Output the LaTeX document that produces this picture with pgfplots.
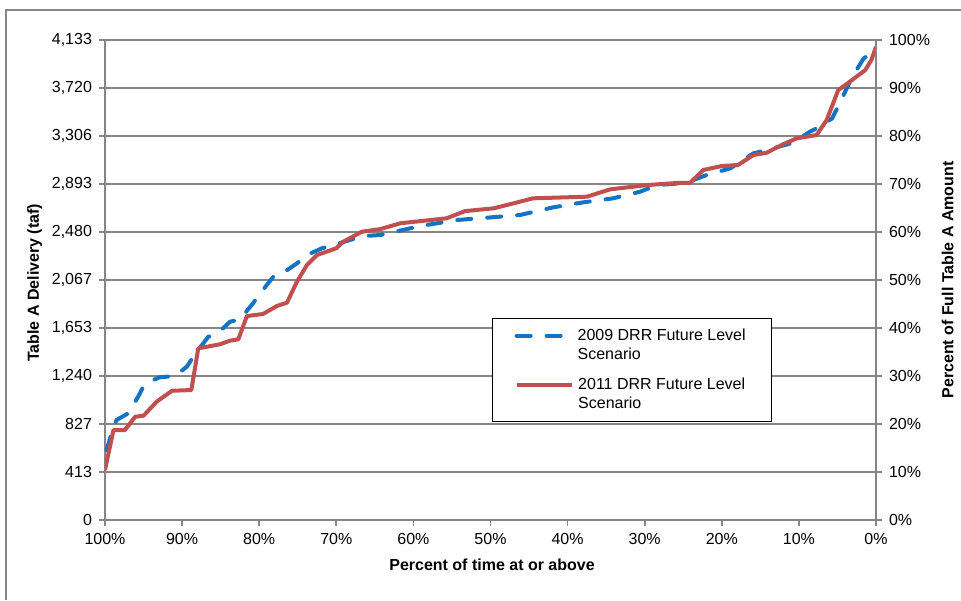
\documentclass[border=0pt]{standalone}
\usepackage{fontspec}
\setmainfont{Liberation Sans}
\usepackage{pgfplots}
\pgfplotsset{compat=1.18}
\definecolor{drrblue}{RGB}{20,115,195}
\definecolor{drrred}{RGB}{192,80,77}
\definecolor{axisgray}{RGB}{134,134,134}

% 1px of the reference = 0.5pt here
\pgfplotsset{
  drrframe/.style={
    scale only axis, width=385.5pt, height=240pt,
    at={(0pt,0pt)}, anchor=south west,
    xmin=0, xmax=100, x dir=reverse,
    axis line style={axisgray, line width=0.8pt},
    tick style={axisgray, line width=0.8pt},
    tick align=outside, major tick length=3pt,
    ticklabel style={font=\fontsize{8}{9.6}\selectfont},
    label style={font=\bfseries\fontsize{8}{9.6}\selectfont},
  },
}

\begin{document}
\begin{tikzpicture}
\useasboundingbox (-52.5pt,-40pt) rectangle (428pt,260pt);

\begin{axis}[drrframe,
  axis x line*=bottom, axis y line*=left,
  ymin=0, ymax=4133.33,
  xtick={0,10,...,100},
  xticklabels={0\%,10\%,20\%,30\%,40\%,50\%,60\%,70\%,80\%,90\%,100\%},
  ytick={0,413.33,826.67,1240,1653.33,2066.67,2480,2893.33,3306.67,3720,4133.33},
  yticklabels={0,413,827,{1,240},{1,653},{2,067},{2,480},{2,893},{3,306},{3,720},{4,133}},
  ymajorgrids, grid style={axisgray, line width=0.8pt},
  xlabel={Percent of time at or above},
  ylabel={Table A Delivery (taf)},
  xlabel style={at={(axis description cs:0.502,-0.094)}, anchor=center},
  ylabel style={at={(axis description cs:-0.091,0.494)}, anchor=center},
  legend style={at={(rel axis cs:0.502,0.421)}, anchor=north west,
    draw=black, line width=0.6pt, inner xsep=11pt, inner ysep=3pt,
    font=\fontsize{8}{9.5}\selectfont, cells={align=left},
    row sep=4pt},
  legend image code/.code={\draw[#1] (0pt,4.75pt) -- (27.5pt,4.75pt);},
]
\addplot[drrblue, line width=2pt, line cap=round, dash pattern=on 7pt off 8pt] coordinates {
(99.8,600) (98.9,803) (98.5,861) (97.0,918) (95.7,1062) (94.8,1177)
(92.9,1229) (90.9,1240) (89.4,1320) (88.1,1449) (86.6,1578) (85.5,1601)
(83.8,1707) (82.5,1728) (80.8,1866) (79.7,1966) (78.0,2109) (76.9,2129)
(75.1,2210) (73.8,2282) (71.9,2339) (70.4,2368) (66.5,2445) (64.3,2454)
(59.1,2531) (54.4,2583) (50.5,2603) (46.2,2626) (41.9,2692) (38.0,2735)
(34.1,2770) (30.6,2827) (28.4,2884) (25.4,2899) (23.7,2927) (22.0,2970)
(18.9,3028) (15.9,3157) (14.2,3186) (10.7,3249) (8.6,3343) (7.3,3386)
(5.7,3458) (4.7,3588) (3.2,3803) (1.6,3975) (0.6,4018) (0.0,4032)
};
\addlegendentry{2009 DRR Future Level\\Scenario}
\addplot[drrred, line width=2pt, line join=round] coordinates {
(100,430) (98.9,775) (97.4,775) (96.1,889) (95.0,898) (93.3,1019)
(91.3,1113) (88.8,1119) (87.9,1478) (85.1,1513) (83.8,1544) (82.7,1556)
(81.6,1756) (79.5,1774) (77.7,1843) (76.4,1871) (75.1,2052) (73.8,2196)
(72.5,2282) (70.0,2340) (69.1,2396) (66.7,2482) (64.3,2505) (61.7,2555)
(55.7,2598) (53.3,2660) (49.6,2684) (47.0,2727) (44.5,2770) (37.5,2784)
(34.5,2847) (29.7,2884) (25.4,2904) (24.1,2904) (22.4,3014) (20.0,3048)
(17.9,3057) (15.9,3143) (14.2,3162) (12.0,3237) (10.3,3286) (7.7,3315)
(6.4,3444) (4.9,3702) (3.4,3774) (1.4,3874) (0.6,3961) (0.0,4075)
};
\addlegendentry{2011 DRR Future Level\\Scenario}
\end{axis}

\begin{axis}[drrframe,
  axis x line=none, axis y line*=right,
  ymin=0, ymax=100,
  ytick={0,10,...,100},
  yticklabels={0\%,10\%,20\%,30\%,40\%,50\%,60\%,70\%,80\%,90\%,100\%},
  yticklabel style={anchor=west},
  ylabel={Percent of Full Table A Amount},
  ylabel style={at={(axis description cs:1.093,0.5)}, anchor=center},
]
\end{axis}

\draw[axisgray, line width=1pt] (-49.5pt,-40pt) -- (-49.5pt,255pt) -- (428pt,255pt);
\end{tikzpicture}
\end{document}
